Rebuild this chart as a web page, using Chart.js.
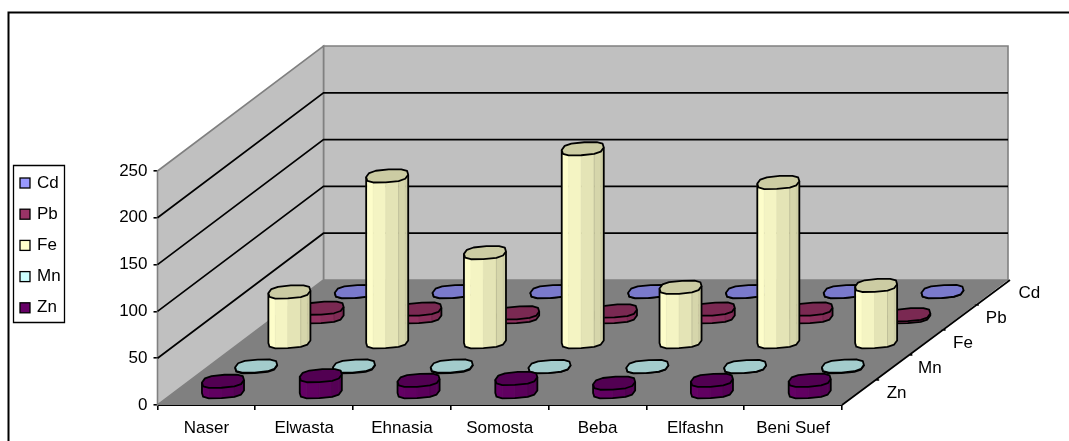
<!DOCTYPE html>
<html>
<head>
<meta charset="utf-8">
<title>Metal concentrations by site</title>
<script src="https://cdn.jsdelivr.net/npm/chart.js@4/dist/chart.umd.js"></script>
<style>
  html, body { margin: 0; padding: 0; background: #fff; }
  canvas { display: block; }
</style>
</head>
<body>
<canvas id="chart" width="1069" height="441"></canvas>
<script>
// Sites along the front axis
const sites = ['Naser', 'Elwasta', 'Ehnasia', 'Somosta', 'Beba', 'Elfashn', 'Beni Suef'];
// Metals along the depth axis, front to back
const metals = ['Zn', 'Mn', 'Fe', 'Pb', 'Cd'];

const znValues = [12, 18, 13, 15, 10, 13, 13];
const mnValues = [1.5, 1.5, 1.5, 1, 1, 1, 1.5];
const feValues = [54, 178, 96, 207, 59, 171, 61];
const pbValues = [10, 9, 5, 7, 9, 9, 3];
const cdValues = [1, 1, 1, 1, 1, 1, 1];

const metalValues = [znValues, mnValues, feValues, pbValues, cdValues];
const metalColors = ['#660066', '#ccffff', '#ffffcc', '#993366', '#9999ff'];

const valueTicks = [0, 50, 100, 150, 200, 250];

// Oblique projection: the vector from the front of the floor to its back
const DEPTH_X = 166;
const DEPTH_Y = -125;
const SIDES = 12;

function depthOffset(fraction) {
  return { x: DEPTH_X * fraction, y: DEPTH_Y * fraction };
}

function shade(hex, factor) {
  const n = parseInt(hex.slice(1), 16);
  const ch = [(n >> 16) & 255, (n >> 8) & 255, n & 255].map(v => Math.round(v * factor));
  return `rgb(${ch[0]},${ch[1]},${ch[2]})`;
}

// Squared-off cosine/sine so the low-sided discs keep a chunky outline
function squarish(v) {
  return Math.sign(v) * Math.pow(Math.abs(v), 0.72);
}

// A bar element drawn as a faceted cylinder standing on the floor plane
class CylinderElement extends Chart.BarElement {
  draw(ctx, datasetIndex) {
    const { x, y, base, width } = this.getProps(['x', 'y', 'base', 'width']);
    const color = metalColors[datasetIndex];
    const offset = depthOffset((datasetIndex + 0.5) / metals.length);
    const cx = x + offset.x;
    const topY = y + offset.y;
    const bottomY = base + offset.y;
    const rx = width / 2;

    // Ring of vertices around a disc, sheared by the floor's projection
    const ring = cy => {
      const pts = [];
      for (let i = 0; i < SIDES; i++) {
        const a = i / SIDES * Math.PI * 2;
        const c = squarish(Math.cos(a));
        const s = squarish(Math.sin(a));
        pts.push({
          x: cx + rx * c + 1.5 * s,
          y: cy - 1.2 * c - 6.5 * s
        });
      }
      return pts;
    };
    const top = ring(topY);
    const bottom = ring(bottomY);

    // Visible half of the side, walked from the left end to the right end
    const ordered = [];
    for (let i = SIDES / 2; i <= SIDES; i++) ordered.push(i % SIDES);

    ctx.save();
    ctx.lineJoin = 'round';
    for (let k = 0; k + 1 < ordered.length; k++) {
      const a = ordered[k], b = ordered[k + 1];
      const mid = (top[a].x + top[b].x) / 2;
      const frac = (mid - (cx - rx)) / (2 * rx);
      ctx.fillStyle = shade(color, 1 - 0.2 * Math.pow(frac, 1.3));
      ctx.strokeStyle = ctx.fillStyle;
      ctx.lineWidth = 0.6;
      ctx.beginPath();
      ctx.moveTo(top[a].x, top[a].y);
      ctx.lineTo(top[b].x, top[b].y);
      ctx.lineTo(bottom[b].x, bottom[b].y);
      ctx.lineTo(bottom[a].x, bottom[a].y);
      ctx.closePath();
      ctx.fill();
      ctx.stroke();
    }

    // Faint facet edge on the shaded side
    const edge = ordered[Math.round(ordered.length * 0.62)];
    ctx.strokeStyle = 'rgba(0,0,0,0.1)';
    ctx.lineWidth = 1;
    ctx.beginPath();
    ctx.moveTo(top[edge].x, top[edge].y);
    ctx.lineTo(bottom[edge].x, bottom[edge].y);
    ctx.stroke();

    // Silhouette of the side
    ctx.strokeStyle = '#000';
    ctx.lineWidth = 1.8;
    ctx.beginPath();
    const first = ordered[0], last = ordered[ordered.length - 1];
    ctx.moveTo(top[first].x, top[first].y);
    ordered.forEach(i => ctx.lineTo(bottom[i].x, bottom[i].y));
    ctx.lineTo(top[last].x, top[last].y);
    ctx.stroke();

    // Top disc, one shade darker than the face
    ctx.fillStyle = shade(color, 0.8);
    ctx.beginPath();
    top.forEach((p, i) => (i ? ctx.lineTo(p.x, p.y) : ctx.moveTo(p.x, p.y)));
    ctx.closePath();
    ctx.fill();
    ctx.stroke();
    ctx.restore();
  }
}
CylinderElement.id = 'cylinder';
CylinderElement.defaults = Chart.BarElement.defaults;

class CylinderController extends Chart.BarController {
  draw() {
    this._cachedMeta.data.forEach(el => el.draw(this.chart.ctx, this.index));
  }
}
CylinderController.id = 'cylinder';
CylinderController.defaults = Object.assign({}, Chart.BarController.defaults, { dataElementType: 'cylinder' });
CylinderController.overrides = Chart.BarController.overrides;

Chart.register(CylinderElement, CylinderController);

const FONT = { family: '"Liberation Sans", Arial, sans-serif', size: 17 };

// Walls, floor and gridlines, extruded from the value and site axes
const roomPlugin = {
  id: 'room',
  beforeDatasetsDraw(chart) {
    const { ctx, scales: { x: xs, y: ys } } = chart;
    const left = xs.left, right = xs.right;
    const y0 = ys.getPixelForValue(0);
    const yMax = ys.getPixelForValue(valueTicks[valueTicks.length - 1]);
    const d = depthOffset(1);
    const poly = (pts, fill, stroke, width) => {
      ctx.beginPath();
      pts.forEach((p, i) => (i ? ctx.lineTo(p[0], p[1]) : ctx.moveTo(p[0], p[1])));
      ctx.closePath();
      ctx.fillStyle = fill;
      ctx.fill();
      if (stroke) { ctx.strokeStyle = stroke; ctx.lineWidth = width; ctx.stroke(); }
    };
    ctx.save();
    poly([[left + d.x, yMax + d.y], [right + d.x, yMax + d.y], [right + d.x, y0 + d.y], [left + d.x, y0 + d.y]], '#c0c0c0', '#808080', 1.6);
    poly([[left, yMax], [left + d.x, yMax + d.y], [left + d.x, y0 + d.y], [left, y0]], '#c0c0c0', '#808080', 1.6);
    poly([[left, y0], [right, y0], [right + d.x, y0 + d.y], [left + d.x, y0 + d.y]], '#808080', null);

    // Gridlines run back along the side wall, then across the back wall
    ctx.strokeStyle = '#000';
    ctx.lineWidth = 1.7;
    valueTicks.slice(1, -1).forEach(v => {
      const py = ys.getPixelForValue(v);
      ctx.beginPath();
      ctx.moveTo(left, py);
      ctx.lineTo(left + d.x, py + d.y);
      ctx.lineTo(right + d.x, py + d.y);
      ctx.stroke();
    });
    ctx.restore();
  },
  afterDatasetsDraw(chart) {
    const { ctx, scales: { x: xs, y: ys } } = chart;
    const right = xs.right;
    const y0 = ys.getPixelForValue(0);
    const d = depthOffset(1);
    ctx.save();

    // Depth axis with its ticks and metal names
    ctx.strokeStyle = '#000';
    ctx.lineWidth = 1.7;
    ctx.beginPath();
    ctx.moveTo(right, y0);
    ctx.lineTo(right + d.x + 2, y0 + d.y);
    for (let i = 1; i < metals.length; i++) {
      const o = depthOffset(i / metals.length);
      ctx.moveTo(right + o.x, y0 + o.y);
      ctx.lineTo(right + o.x + 4, y0 + o.y);
    }
    ctx.stroke();
    ctx.fillStyle = '#000';
    ctx.font = `${FONT.size}px ${FONT.family}`;
    ctx.textAlign = 'center';
    ctx.textBaseline = 'middle';
    metals.forEach((name, i) => {
      const o = depthOffset((i + 0.5) / metals.length);
      ctx.fillText(name, right + o.x + 38, y0 + o.y + 1);
    });

    // Chart frame: top and left edges only
    ctx.lineWidth = 2;
    ctx.beginPath();
    ctx.moveTo(8.5, 441);
    ctx.lineTo(8.5, 12.5);
    ctx.lineTo(1069, 12.5);
    ctx.stroke();

    // Legend, back of the room first
    ctx.fillStyle = '#fff';
    ctx.lineWidth = 1.3;
    ctx.beginPath();
    ctx.rect(13.5, 165.5, 51, 157);
    ctx.fill();
    ctx.stroke();
    ctx.textAlign = 'left';
    metals.slice().reverse().forEach((name, i) => {
      const cy = 183 + i * 31.2;
      ctx.fillStyle = metalColors[metals.length - 1 - i];
      ctx.fillRect(20, cy - 5, 10, 10);
      ctx.strokeRect(20, cy - 5, 10, 10);
      ctx.fillStyle = '#000';
      ctx.fillText(name, 37, cy);
    });
    ctx.restore();
  }
};

new Chart(document.getElementById('chart'), {
  type: 'cylinder',
  data: {
    labels: sites,
    datasets: metals.map((name, i) => ({
      label: name,
      data: metalValues[i],
      backgroundColor: metalColors[i],
      grouped: false,
      barPercentage: 1,
      categoryPercentage: 0.43,
      clip: false
    }))
  },
  options: {
    responsive: false,
    animation: false,
    layout: { padding: { left: 97.5, top: 171, right: 227, bottom: 6 } },
    plugins: { legend: { display: false }, tooltip: { enabled: false } },
    scales: {
      x: {
        type: 'category',
        offset: true,
        afterFit(scale) { scale.height = 30; },
        grid: { offset: true, drawOnChartArea: false, color: '#000', tickLength: 5, lineWidth: 1.6 },
        border: { color: '#000', width: 2 },
        ticks: { color: '#000', font: FONT, padding: 8, maxRotation: 0, autoSkip: false }
      },
      y: {
        type: 'linear',
        min: 0,
        max: 250,
        afterFit(scale) { scale.width = 60; },
        grid: { drawOnChartArea: false, color: '#000', tickLength: 4, lineWidth: 1.6 },
        border: { color: '#000', width: 2 },
        ticks: { color: '#000', font: FONT, padding: 6, stepSize: 50 }
      }
    }
  },
  plugins: [roomPlugin]
});
</script>
</body>
</html>
